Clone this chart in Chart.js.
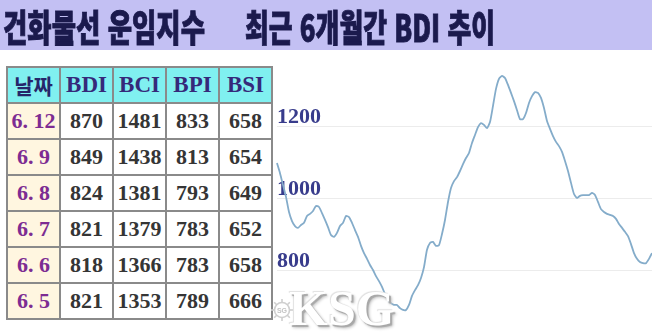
<!DOCTYPE html>
<html lang="ko">
<head>
<meta charset="utf-8">
<script src="https://cdn.jsdelivr.net/npm/chart.js@4.4.1/dist/chart.umd.min.js"></script>
<style>
  html, body { margin: 0; padding: 0; }
  body { width: 652px; height: 334px; overflow: hidden; position: relative; background: #fff; }
  #title { position: absolute; left: 0; top: 0; width: 652px; height: 50px; background: #c3c0f3; z-index: 3; }
  .tt { position: absolute; top: 1px; display: inline-block; font-family: "Noto Sans CJK KR", sans-serif; font-weight: 900;
        font-size: 37px; line-height: 50px; color: #1b1a4d; -webkit-text-stroke: 0.9px #1b1a4d;
        white-space: nowrap; transform-origin: 0 50%; }
  .cell { position: absolute; box-sizing: border-box; border: 2px solid #8a8a8a; display: flex; align-items: center;
          justify-content: center; font-family: "Liberation Serif", serif; font-weight: 700; font-size: 22px; color: #353535;
          background: #fff; white-space: pre; }
  .cell.head { background: #80f0f0; color: #35297a; font-size: 23px; }
  .cell.head.kr { font-family: "Noto Sans CJK KR", sans-serif; font-size: 21px; color: #26266a; }
  .cell.date { background: #fff6e0; color: #7d2c92; }
  #chartBox { position: absolute; left: 270px; top: 39px; width: 382px; height: 318px; z-index: 1; }
  #wm { position: absolute; left: 289px; top: 283px; font-family: "Liberation Serif", serif; font-weight: 700; font-size: 50px;
        line-height: 50px; color: #fff; text-shadow: 2px 2px 1px #a8a8a8, 3px 3px 3px #c8c8c8, -1px -1px 1px #e0e0e0; z-index: 2; }
  #logo { position: absolute; left: 270px; top: 298px; z-index: 2; }
</style>
</head>
<body>
<div id="title">
  <span class="tt" id="t1">건화물선 운임지수</span>
  <span class="tt" id="t2">최근 6개월간 BDI 추이</span>
</div>
<div id="table"></div>
<div id="chartBox"><canvas id="bdiChart" width="382" height="318"></canvas></div>
<svg id="logo" width="24" height="24" viewBox="0 0 24 24">
  <g stroke="#cfcfcf" stroke-width="1.6" fill="none">
    <circle cx="12" cy="12" r="7.5"/>
    <line x1="12" y1="1" x2="12" y2="4.5"/><line x1="12" y1="19.5" x2="12" y2="23"/>
    <line x1="1" y1="12" x2="4.5" y2="12"/><line x1="19.5" y1="12" x2="23" y2="12"/>
    <line x1="4.2" y1="4.2" x2="6.7" y2="6.7"/><line x1="17.3" y1="17.3" x2="19.8" y2="19.8"/>
    <line x1="4.2" y1="19.8" x2="6.7" y2="17.3"/><line x1="17.3" y1="6.7" x2="19.8" y2="4.2"/>
  </g>
  <text x="12" y="14.5" font-size="7" font-family="Liberation Sans" font-weight="700" fill="#c4c4c4" text-anchor="middle">SG</text>
</svg>
<div id="wm">KSG</div>

<script>
// Daily index table (latest first)
const dates = ["6. 12", "6. 9", "6. 8", "6. 7", "6. 6", "6. 5"];
const bdi = [870, 849, 824, 821, 818, 821];
const bci = [1481, 1438, 1381, 1379, 1366, 1353];
const bpi = [833, 813, 793, 783, 783, 789];
const bsi = [658, 654, 649, 652, 658, 666];
const headers = ["날짜", "BDI", "BCI", "BPI", "BSI"];

// BDI over the last six months (daily closes)
const bdi6m = [
  1097, 1069, 1036, 1003, 961, 936, 922, 917, 925, 931,
  950, 956, 964, 978, 975, 958, 939, 919, 897, 892,
  903, 922, 931, 950, 947, 931, 911, 892, 867, 847,
  831, 814, 800, 783, 769, 753, 733, 717, 708, 703,
  703, 694, 689, 689, 703, 728, 744, 758, 778, 808,
  856, 875, 878, 867, 869, 900, 939, 989, 1028, 1047,
  1058, 1075, 1094, 1111, 1125, 1153, 1175, 1197, 1208, 1203,
  1194, 1211, 1256, 1303, 1331, 1339, 1333, 1314, 1292, 1269,
  1244, 1219, 1219, 1236, 1264, 1283, 1294, 1292, 1278, 1250,
  1214, 1192, 1172, 1156, 1144, 1128, 1103, 1075, 1042, 1011,
  1000, 1006, 1008, 1008, 1008, 1014, 1008, 989, 969, 961,
  956, 953, 950, 942, 928, 917, 906, 894, 872, 847,
  831, 822, 819, 819, 831, 847
];
const days = bdi6m.map((_, i) => String(i + 1));
const yTicks = [800, 1000, 1200];

// Title: condense each phrase to its span
function fitTitle(id, left, width) {
  const el = document.getElementById(id);
  el.style.left = left + "px";
  const w = el.getBoundingClientRect().width;
  el.style.transform = "scaleX(" + (width / w) + ")";
}
fitTitle("t1", 3, 202);
fitTitle("t2", 245, 250);

// Table
const table = document.getElementById("table");
const colW = 53, rowH = 36, x0 = 7, y0 = 67;
function addCell(r, c, text, cls) {
  const d = document.createElement("div");
  d.className = "cell " + cls;
  d.style.left = (x0 + c * colW - 1) + "px";
  d.style.top = (y0 + r * rowH - 1) + "px";
  d.style.width = (colW + 2) + "px";
  d.style.height = (rowH + 2) + "px";
  d.textContent = text;
  table.appendChild(d);
}
headers.forEach((h, c) => addCell(0, c, h, c === 0 ? "head kr" : "head"));
dates.forEach((d, i) => {
  addCell(i + 1, 0, d, "date");
  addCell(i + 1, 1, String(bdi[i]), "num");
  addCell(i + 1, 2, String(bci[i]), "num");
  addCell(i + 1, 3, String(bpi[i]), "num");
  addCell(i + 1, 4, String(bsi[i]), "num");
});

// Line chart
new Chart(document.getElementById("bdiChart"), {
  type: "line",
  data: {
    labels: days,
    datasets: [{
      data: bdi6m,
      borderColor: "#84acca",
      borderWidth: 1.8,
      pointRadius: 0,
      tension: 0.2,
      fill: false
    }]
  },
  options: {
    responsive: false,
    animation: false,
    devicePixelRatio: 1,
    layout: { padding: { left: 7, top: 15, bottom: 15, right: 0 } },
    plugins: { legend: { display: false }, tooltip: { enabled: false } },
    scales: {
      x: { display: false },
      y: {
        min: 600,
        max: 1400,
        afterBuildTicks: (s) => { s.ticks = yTicks.map(v => ({ value: v })); },
        grid: { color: "#ececec", lineWidth: 1, drawTicks: false },
        border: { display: false },
        ticks: {
          mirror: true,
          padding: 0,
          labelOffset: -9,
          color: "#383c8c",
          callback: (v) => String(v),
          font: { family: "Liberation Serif", weight: "bold", size: 22 }
        }
      }
    }
  }
});
</script>
</body>
</html>
